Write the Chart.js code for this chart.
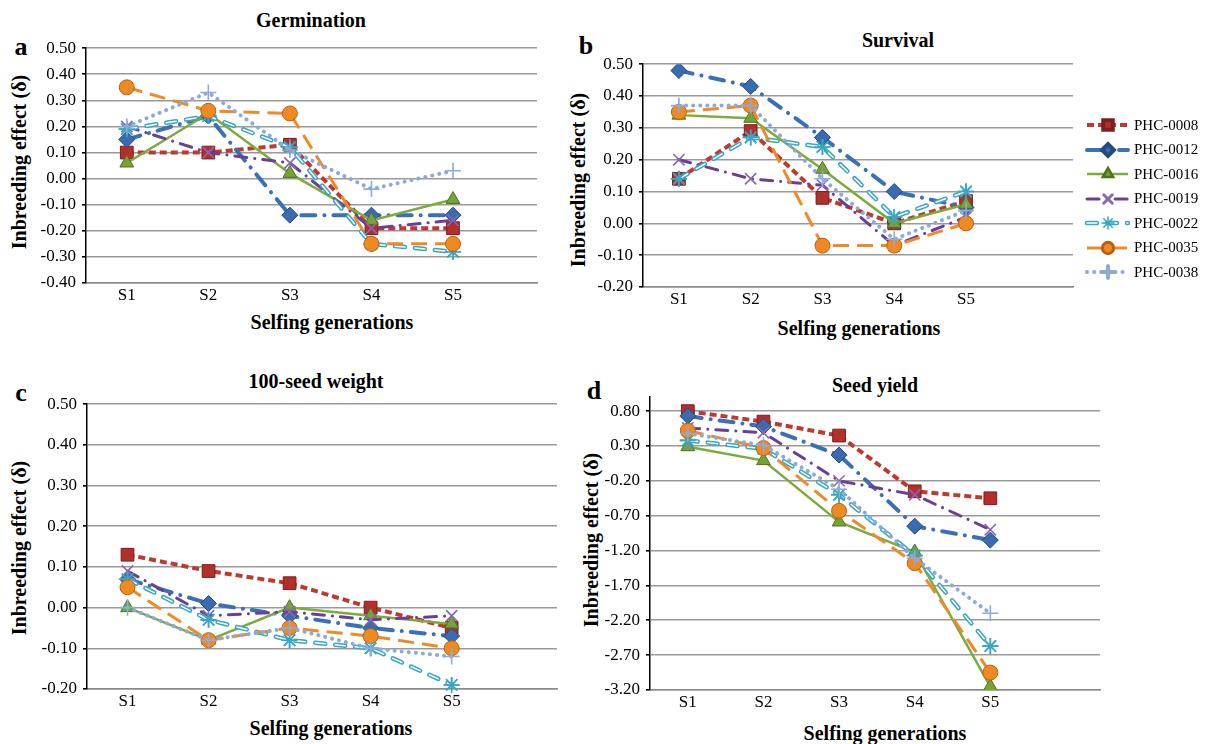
<!DOCTYPE html>
<html>

<head>
    <meta charset="UTF-8">
    <title>Inbreeding effect over selfing generations</title>
    <script src="https://cdn.jsdelivr.net/npm/chart.js"></script>
    <style>
        body {
            margin: 0;
            background: #fff;
            font-family: "Liberation Serif", Tinos, "DejaVu Serif", serif;
        }

        #page {
            position: relative;
            width: 1210px;
            height: 744px;
            overflow: hidden;
        }

        #page canvas.plot {
            position: absolute;
        }

        .txt {
            position: absolute;
            white-space: nowrap;
            transform: translate(-50%, -50%);
            color: #000;
            font-weight: bold;
            font-size: 20px;
            line-height: 1;
        }

        .yt {
            transform: translate(-50%, -50%) rotate(-90deg);
        }

        .let {
            font-size: 26px;
        }

        #legend {
            position: absolute;
            left: 1084px;
            top: 113px;
        }

        .li {
            display: flex;
            align-items: center;
            height: 24.5px;
            font-size: 15px;
        }

        .li canvas {
            margin-right: 4px;
        }
    </style>
</head>

<body>
    <div id="page">
        <div class="txt let" style="left:21px; top:47px;">a</div>
        <div class="txt let" style="left:586px; top:46px;">b</div>
        <div class="txt let" style="left:21px; top:393px;">c</div>
        <div class="txt let" style="left:594px; top:391px;">d</div>

        <div class="txt" style="left:311px; top:20px;">Germination</div>
        <div class="txt" style="left:898px; top:40px;">Survival</div>
        <div class="txt" style="left:316px; top:381px;">100-seed weight</div>
        <div class="txt" style="left:875px; top:385px;">Seed yield</div>

        <div class="txt" style="left:332px; top:322px;">Selfing generations</div>
        <div class="txt" style="left:859px; top:328px;">Selfing generations</div>
        <div class="txt" style="left:331px; top:728px;">Selfing generations</div>
        <div class="txt" style="left:885px; top:733px;">Selfing generations</div>

        <div class="txt yt" style="left:19px; top:162px;">Inbreeding effect (δ)</div>
        <div class="txt yt" style="left:578px; top:180px;">Inbreeding effect (δ)</div>
        <div class="txt yt" style="left:19px; top:548px;">Inbreeding effect (δ)</div>
        <div class="txt yt" style="left:591px; top:540px;">Inbreeding effect (δ)</div>

        <div id="legend"></div>
    </div>

    <script>
        const generations = ['S1', 'S2', 'S3', 'S4', 'S5'];
        const lineNames = ['PHC-0008', 'PHC-0012', 'PHC-0016', 'PHC-0019', 'PHC-0022', 'PHC-0035', 'PHC-0038'];

        // one row per line (same order as lineNames), values for S1..S5
        const germination = [
            [0.10, 0.10, 0.13, -0.19, -0.19],
            [0.15, 0.24, -0.14, -0.14, -0.14],
            [0.06, 0.25, 0.02, -0.16, -0.08],
            [0.20, 0.10, 0.06, -0.19, -0.16],
            [0.19, 0.24, 0.12, -0.25, -0.28],
            [0.35, 0.26, 0.25, -0.25, -0.25],
            [0.20, 0.33, 0.11, -0.04, 0.03]
        ];
        const survival = [
            [0.14, 0.29, 0.08, 0.00, 0.07],
            [0.48, 0.43, 0.27, 0.10, 0.05],
            [0.34, 0.33, 0.17, 0.00, 0.06],
            [0.20, 0.14, 0.12, -0.07, 0.02],
            [0.14, 0.27, 0.24, 0.02, 0.10],
            [0.35, 0.37, -0.07, -0.07, 0.00],
            [0.37, 0.37, 0.14, -0.05, 0.04]
        ];
        const seedWeight = [
            [0.13, 0.09, 0.06, 0.00, -0.05],
            [0.07, 0.01, -0.02, -0.05, -0.07],
            [0.00, -0.08, 0.00, -0.02, -0.04],
            [0.09, -0.02, -0.01, -0.03, -0.02],
            [0.07, -0.03, -0.08, -0.10, -0.19],
            [0.05, -0.08, -0.05, -0.07, -0.10],
            [0.00, -0.08, -0.05, -0.10, -0.12]
        ];
        const seedYield = [
            [0.80, 0.65, 0.45, -0.35, -0.45],
            [0.73, 0.58, 0.17, -0.85, -1.05],
            [0.29, 0.09, -0.79, -1.22, -3.15],
            [0.56, 0.49, -0.20, -0.40, -0.90],
            [0.38, 0.26, -0.40, -1.27, -2.57],
            [0.52, 0.27, -0.63, -1.38, -2.95],
            [0.48, 0.31, -0.32, -1.31, -2.10]
        ];

        const germTicks = [-0.40, -0.30, -0.20, -0.10, 0.00, 0.10, 0.20, 0.30, 0.40, 0.50];
        const survTicks = [-0.20, -0.10, 0.00, 0.10, 0.20, 0.30, 0.40, 0.50];
        const weightTicks = [-0.20, -0.10, 0.00, 0.10, 0.20, 0.30, 0.40, 0.50];
        const yieldTicks = [-3.20, -2.70, -2.20, -1.70, -1.20, -0.70, -0.20, 0.30, 0.80];

        const lineStyles = [
            { color: '#c0392f', marker: '#b32f2c', edge: '#7d1f1d', dash: [7, 4], width: 4, cap: 'butt', point: 'rect', r: 9 },
            { color: '#3b70b6', marker: '#3a6bb0', edge: '#234b80', dash: [14, 9, 0.1, 9], width: 4, cap: 'round', point: 'rectRot', r: 8 },
            { color: '#7dab3e', marker: '#76a236', edge: '#4f7220', dash: [], width: 2.5, cap: 'butt', point: 'triangle', r: 8 },
            { color: '#6a3f97', marker: '#8a67b5', edge: '#8a67b5', dash: [12, 8, 0.1, 8], width: 3, cap: 'round', point: 'crossRot', r: 8 },
            { color: '#39a6c2', marker: '#39a6c2', edge: '#39a6c2', dash: [10, 10], width: 4.5, cap: 'round', point: 'star', r: 8, hollow: true },
            { color: '#ee8a2b', marker: '#ef8a22', edge: '#b86110', dash: [16, 8], width: 3, cap: 'butt', point: 'circle', r: 7.5 },
            { color: '#8caadb', marker: '#8caadb', edge: '#8caadb', dash: [0.1, 7], width: 4, cap: 'round', point: 'cross', r: 8 }
        ];
        const strokeOnly = ['crossRot', 'star', 'cross'];
        const serif = '"Liberation Serif", Tinos, "DejaVu Serif", serif';

        // draws the white core on the PHC-0022 dashes so they look hollow
        const hollowLine = {
            id: 'hollowLine',
            afterDatasetDraw(chart, args) {
                const ds = chart.data.datasets[args.index];
                if (!ds.hollow) return;
                const pts = args.meta.data;
                const ctx = chart.ctx;
                ctx.save();
                ctx.strokeStyle = '#fff';
                ctx.lineWidth = ds.borderWidth - 3;
                ctx.lineCap = 'round';
                ctx.setLineDash(ds.borderDash);
                ctx.beginPath();
                pts.forEach((p, i) => i ? ctx.lineTo(p.x, p.y) : ctx.moveTo(p.x, p.y));
                ctx.stroke();
                ctx.restore();
                pts.forEach(p => p.draw(ctx, chart.chartArea));
            }
        };

        const AXIS_W = 62, AXIS_H = 32, PAD = 12;

        function makePanel(values, yTicks, box, xMax, yMin, yMax) {
            const canvas = document.createElement('canvas');
            canvas.className = 'plot';
            const left = box.left - AXIS_W;
            const top = box.top - PAD;
            const w = box.right - left + PAD;
            const h = box.bottom - top + AXIS_H;
            canvas.width = w;
            canvas.height = h;
            canvas.style.left = left + 'px';
            canvas.style.top = top + 'px';
            canvas.style.width = w + 'px';
            canvas.style.height = h + 'px';
            document.getElementById('page').appendChild(canvas);

            const datasets = values.map((row, i) => {
                const s = lineStyles[i];
                const open = strokeOnly.includes(s.point);
                return {
                    label: lineNames[i],
                    data: row.map((v, j) => ({ x: j + 1, y: v })),
                    borderColor: s.color,
                    borderWidth: s.width,
                    borderDash: s.dash,
                    borderCapStyle: s.cap,
                    tension: 0,
                    fill: false,
                    pointStyle: s.point,
                    pointRadius: s.r,
                    pointBackgroundColor: s.marker,
                    pointBorderColor: s.edge,
                    pointBorderWidth: open ? 1.6 : 1,
                    hollow: !!s.hollow,
                    order: lineNames.length - i
                };
            });

            return new Chart(canvas, {
                type: 'line',
                data: { datasets: datasets },
                plugins: [hollowLine],
                options: {
                    responsive: false,
                    animation: false,
                    events: [],
                    layout: { padding: { left: 0, top: PAD, right: PAD, bottom: 0 } },
                    plugins: { legend: { display: false }, tooltip: { enabled: false } },
                    scales: {
                        x: {
                            type: 'linear',
                            min: 0.5,
                            max: xMax,
                            afterBuildTicks: s => { s.ticks = generations.map((g, i) => ({ value: i + 1 })); },
                            afterFit: s => { s.height = AXIS_H; },
                            grid: { display: true, drawOnChartArea: false, drawTicks: false },
                            border: { display: true, color: '#8a8a8a', width: 1.5 },
                            ticks: {
                                autoSkip: false,
                                maxRotation: 0,
                                padding: 2,
                                color: '#000',
                                font: { family: serif, size: 17 },
                                callback: v => generations[Math.round(v) - 1] || ''
                            }
                        },
                        y: {
                            min: yMin,
                            max: yMax,
                            afterBuildTicks: s => { s.ticks = yTicks.map(v => ({ value: v })); },
                            afterFit: s => { s.width = AXIS_W; },
                            grid: { color: '#9a9a9a', lineWidth: 1.6, tickColor: '#000', tickLength: 4 },
                            border: { display: true, color: '#000', width: 1.5 },
                            ticks: {
                                padding: 6,
                                color: '#000',
                                font: { family: serif, size: 17 },
                                callback: v => Math.abs(v) < 1e-9 ? '0.00' : v.toFixed(2)
                            }
                        }
                    }
                }
            });
        }

        makePanel(germination, germTicks, { left: 86, top: 44, right: 537, bottom: 283 }, 6.03, -0.40, 0.50);
        makePanel(survival, survTicks, { left: 643, top: 60, right: 1073, bottom: 287 }, 6.49, -0.20, 0.50);
        makePanel(seedWeight, weightTicks, { left: 87, top: 400, right: 557, bottom: 689 }, 6.3, -0.20, 0.50);
        makePanel(seedYield, yieldTicks, { left: 650, top: 393, right: 1100, bottom: 690 }, 6.45, -3.20, 1.00);

        // legend: small line sample + marker, then the name
        const legend = document.getElementById('legend');
        lineNames.forEach((name, i) => {
            const s = lineStyles[i];
            const row = document.createElement('div');
            row.className = 'li';
            const c = document.createElement('canvas');
            c.width = 46;
            c.height = 18;
            const ctx = c.getContext('2d');
            ctx.strokeStyle = s.color;
            ctx.lineWidth = s.width;
            ctx.lineCap = s.cap;
            ctx.setLineDash(s.dash);
            ctx.beginPath();
            ctx.moveTo(3, 9);
            ctx.lineTo(44, 9);
            ctx.stroke();
            if (s.hollow) {
                ctx.strokeStyle = '#fff';
                ctx.lineWidth = s.width - 3;
                ctx.beginPath();
                ctx.moveTo(3, 9);
                ctx.lineTo(44, 9);
                ctx.stroke();
            }
            ctx.setLineDash([]);
            ctx.fillStyle = s.marker;
            ctx.strokeStyle = s.edge;
            const open = strokeOnly.includes(s.point);
            const opts = { pointStyle: s.point, rotation: 0, radius: s.r * 0.75, borderWidth: open ? 1.5 : 1 };
            if (Chart.helpers && Chart.helpers.drawPoint) {
                Chart.helpers.drawPoint(ctx, opts, 24, 9);
            } else {
                ctx.beginPath();
                ctx.arc(24, 9, 5, 0, Math.PI * 2);
                ctx.fill();
            }
            row.appendChild(c);
            const label = document.createElement('span');
            label.textContent = name;
            row.appendChild(label);
            legend.appendChild(row);
        });
    </script>
</body>

</html>
